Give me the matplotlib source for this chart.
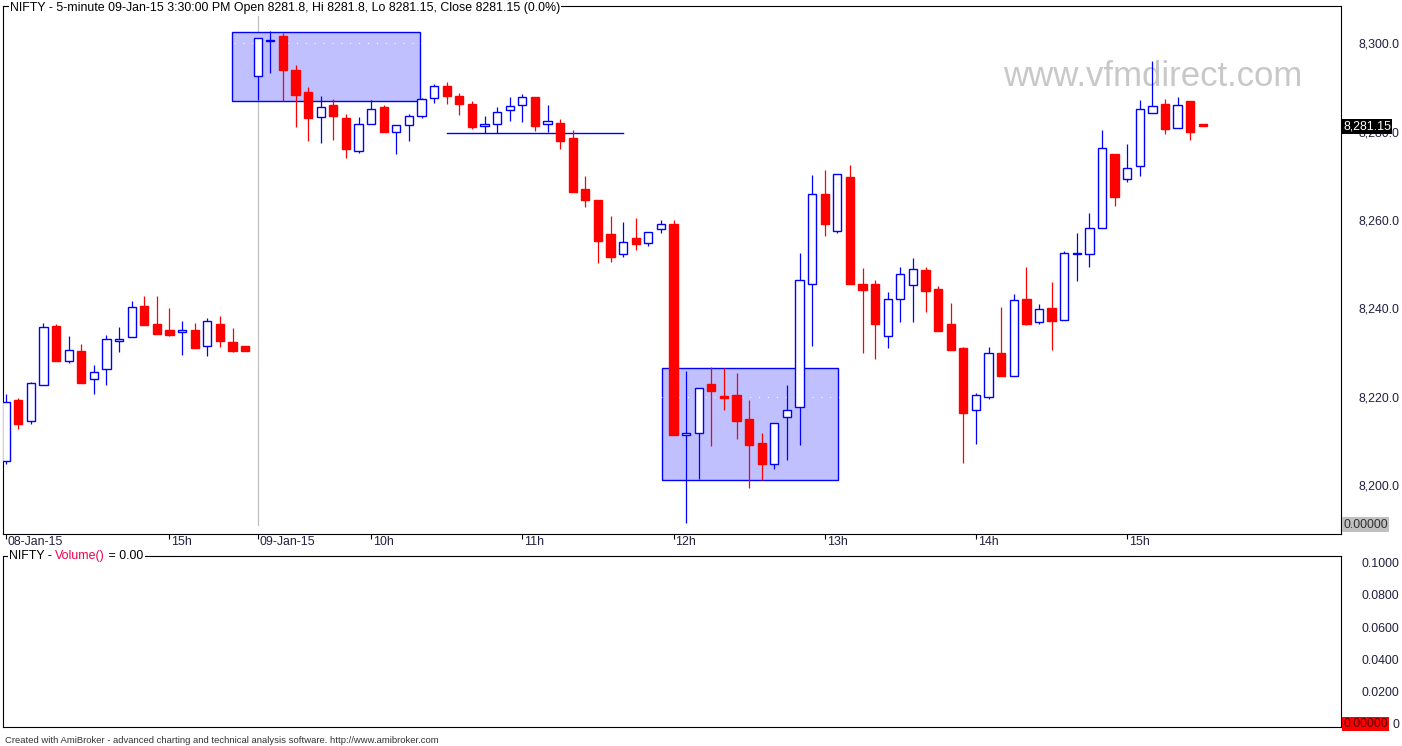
import matplotlib
matplotlib.use('Agg')
import matplotlib.pyplot as plt
from matplotlib.patches import Rectangle
from matplotlib.transforms import blended_transform_factory

plt.rcParams['font.family'] = ['Liberation Sans', 'DejaVu Sans']

# NIFTY 5-minute bars: 08-Jan-15 13:55..15:30 then 09-Jan-15 09:15..15:30
opens = [8205.4, 8219.2, 8214.4, 8222.6, 8236.0, 8228.0, 8230.3, 8223.9, 8226.2, 8232.7,
         8233.4, 8240.5, 8236.4, 8235.1, 8234.6, 8235.1, 8231.4, 8236.4, 8232.4, 8231.4,
         8292.5, 8300.4, 8301.6, 8293.9, 8288.9, 8283.2, 8286.0, 8283.0, 8275.7, 8281.6,
         8285.5, 8279.8, 8281.4, 8283.6, 8287.5, 8290.3, 8288.0, 8286.2, 8281.2, 8281.8,
         8284.8, 8286.1, 8287.8, 8281.6, 8281.9, 8278.5, 8267.0, 8264.5, 8256.8, 8252.2,
         8255.9, 8254.7, 8257.9, 8259.1, 8211.3, 8211.7, 8222.9, 8220.1, 8220.4, 8214.9,
         8209.5, 8204.8, 8215.3, 8217.6, 8245.6, 8265.8, 8257.6, 8269.7, 8245.5, 8245.5,
         8233.7, 8242.0, 8245.2, 8248.7, 8244.4, 8236.4, 8231.0, 8216.9, 8219.9, 8229.9,
         8224.6, 8242.0, 8236.8, 8240.0, 8237.3, 8252.2, 8252.2, 8258.1, 8274.9, 8269.2,
         8272.1, 8284.3, 8286.2, 8280.7, 8286.9, 8281.8]
highs = [8220.6, 8219.7, 8223.3, 8236.7, 8236.4, 8233.7, 8231.9, 8227.2, 8233.9, 8235.8,
         8241.6, 8242.8, 8242.8, 8240.0, 8237.1, 8236.7, 8237.9, 8238.2, 8235.5, 8231.4,
         8301.1, 8302.7, 8302.2, 8295.0, 8290.0, 8288.0, 8287.3, 8283.9, 8283.3, 8287.1,
         8286.0, 8281.4, 8284.0, 8287.5, 8290.7, 8291.2, 8288.7, 8286.9, 8283.5, 8285.5,
         8287.8, 8288.5, 8287.8, 8286.0, 8282.8, 8280.3, 8269.9, 8264.5, 8260.9, 8259.5,
         8260.4, 8257.2, 8260.0, 8259.9, 8225.8, 8221.9, 8226.7, 8226.4, 8225.4, 8219.2,
         8211.8, 8214.0, 8222.6, 8252.5, 8270.1, 8271.3, 8270.3, 8272.4, 8249.1, 8246.5,
         8243.6, 8249.3, 8251.4, 8249.3, 8245.0, 8241.2, 8231.3, 8220.8, 8231.2, 8240.4,
         8243.2, 8249.3, 8241.0, 8245.9, 8252.9, 8257.1, 8261.5, 8280.3, 8274.9, 8277.2,
         8287.1, 8295.9, 8287.3, 8287.8, 8286.9, 8281.8]
lows = [8204.8, 8212.8, 8213.9, 8222.6, 8228.0, 8227.7, 8223.2, 8220.7, 8222.7, 8230.2,
        8233.4, 8236.3, 8234.2, 8233.8, 8229.5, 8231.1, 8229.3, 8231.3, 8230.2, 8230.4,
        8287.1, 8293.3, 8286.9, 8281.1, 8277.9, 8277.4, 8278.1, 8274.1, 8275.2, 8281.6,
        8279.9, 8275.0, 8277.9, 8283.1, 8286.5, 8286.3, 8283.8, 8280.6, 8279.6, 8279.6,
        8282.4, 8282.2, 8280.2, 8279.9, 8276.1, 8266.4, 8263.0, 8250.3, 8250.5, 8251.5,
        8253.2, 8254.1, 8257.1, 8211.4, 8191.4, 8201.4, 8208.9, 8217.0, 8210.4, 8199.3,
        8201.2, 8203.7, 8205.7, 8209.1, 8231.5, 8256.4, 8257.0, 8245.6, 8230.0, 8228.6,
        8231.1, 8237.0, 8237.0, 8239.2, 8234.9, 8230.6, 8205.1, 8209.2, 8219.5, 8224.7,
        8224.6, 8236.3, 8236.5, 8230.6, 8237.3, 8246.2, 8249.4, 8258.1, 8263.2, 8268.6,
        8270.0, 8284.3, 8279.5, 8280.7, 8278.1, 8281.15]
closes = [8218.9, 8213.9, 8223.0, 8235.7, 8228.0, 8230.5, 8223.2, 8225.7, 8233.0, 8233.0,
          8240.4, 8236.3, 8234.2, 8234.0, 8235.1, 8231.1, 8237.1, 8232.7, 8230.4, 8230.4,
          8301.1, 8300.8, 8294.0, 8288.3, 8283.1, 8285.5, 8283.6, 8276.1, 8281.8, 8285.0,
          8279.9, 8281.4, 8283.6, 8287.3, 8290.2, 8288.1, 8286.3, 8281.1, 8281.6, 8284.5,
          8285.7, 8287.9, 8281.3, 8282.3, 8277.9, 8266.4, 8264.6, 8255.3, 8251.7, 8255.1,
          8254.6, 8257.2, 8259.0, 8211.4, 8211.7, 8221.9, 8221.4, 8219.8, 8214.6, 8209.1,
          8204.8, 8214.0, 8217.1, 8246.3, 8265.8, 8259.1, 8270.3, 8245.6, 8244.2, 8236.5,
          8242.0, 8247.7, 8249.0, 8244.0, 8234.9, 8230.6, 8216.4, 8220.3, 8230.0, 8224.7,
          8241.8, 8236.5, 8239.8, 8237.2, 8252.5, 8252.5, 8258.1, 8276.2, 8265.2, 8271.7,
          8285.0, 8285.7, 8280.6, 8286.1, 8279.9, 8281.15]

tick_bars = [0, 13, 20, 29, 41, 53, 65, 77, 89]
tick_labels = ['08-Jan-15', '15h', '09-Jan-15', '10h', '11h', '12h', '13h', '14h', '15h']

price_ticks = [8200, 8220, 8240, 8260, 8280, 8300]
price_labels = ['8,200.0', '8,220.0', '8,240.0', '8,260.0', '8,280.0', '8,300.0']
vol_ticks = [0, 0.02, 0.04, 0.06, 0.08, 0.10]
vol_labels = ['0', '0.0200', '0.0400', '0.0600', '0.0800', '0.1000']

# user drawn zones (first bar, last bar, low, high) and a horizontal line
zones = [(17.95, 32.9, 8286.9, 8302.5), (52.08, 66.03, 8201.1, 8226.4)]
hline = (35.0, 49.0, 8279.6)
session_bar = 20
last_close = 8281.15

BLUE = '#0000FF'
RED = '#FF0000'
FS = 8.9

fig = plt.figure(figsize=(14.02, 7.46), dpi=100)
ax = fig.add_axes([0.00235, 0.28485, 0.95395, 0.70711])
vax = fig.add_axes([0.00235, 0.0248, 0.95395, 0.23056])

for a in (ax, vax):
    for s in a.spines.values():
        s.set_linewidth(0.8)
        s.set_color('black')
    a.set_xlim(-0.19, 105.95)

# zones and line
for x0, x1, lo, hi in zones:
    ax.add_patch(Rectangle((x0, lo), x1 - x0, hi - lo, facecolor='#C0C0FF',
                           edgecolor=BLUE, linewidth=1.0, zorder=1))
ax.plot([hline[0], hline[1]], [hline[2], hline[2]], color=BLUE, lw=1.0, zorder=2)
ax.axvline(session_bar, ymin=0.016, ymax=0.981, color='#C0C0C0', lw=0.9, zorder=0.9)

# candles
x = list(range(len(opens)))
up = [i for i in x if closes[i] > opens[i]]
dn = [i for i in x if closes[i] <= opens[i]]
wick_cols = [BLUE if closes[i] > opens[i] else RED for i in x]
ax.vlines(x, lows, highs, colors=wick_cols, lw=0.9, zorder=3)


def body(idx):
    b = [min(opens[i], closes[i]) for i in idx]
    h = [max(abs(closes[i] - opens[i]), 0.2) for i in idx]
    return b, h


b, h = body(up)
ax.bar(up, h, bottom=b, width=0.66, color='white', edgecolor=BLUE, linewidth=1.0, zorder=4)
b, h = body(dn)
ax.bar(dn, h, bottom=b, width=0.66, color=RED, edgecolor=RED, linewidth=1.0, zorder=4)

ax.set_ylim(8189.05, 8308.4)
ax.set_axisbelow('line')
ax.yaxis.tick_right()
ax.set_yticks(price_ticks)
ax.set_yticklabels(price_labels)
ax.yaxis.grid(True, color='white', linestyle=(0, (1, 7)), lw=0.8)
ax.tick_params(axis='y', length=0, pad=42, labelsize=FS, labelcolor='#202040')
for lbl in ax.get_yticklabels():
    lbl.set_horizontalalignment('right')

ax.set_xticks(tick_bars)
ax.set_xticklabels([])
ax.tick_params(axis='x', direction='out', length=3.6, width=0.8)
tr = blended_transform_factory(ax.transData, ax.transAxes)
for xb, lab in zip(tick_bars, tick_labels):
    ax.text(xb + 0.16, -0.005, lab, transform=tr, ha='left', va='top', fontsize=FS,
            color='#202040', clip_on=False)

# right side value labels
ty = blended_transform_factory(ax.transAxes, ax.transData)
ax.text(1.0018, last_close, '8,281.15', transform=ty, ha='left', va='center', fontsize=FS,
        color='white', clip_on=False, zorder=10,
        bbox=dict(boxstyle='square,pad=0.1', facecolor='black', edgecolor='none'))
ax.text(1.0018, 0.017, '0.00000', transform=ax.transAxes, ha='left', va='center',
        fontsize=FS, color='#303030', clip_on=False, zorder=10,
        bbox=dict(boxstyle='square,pad=0.1', facecolor='#C0C0C0', edgecolor='none'))

# watermark
ax.text(0.8593, 0.867, 'www.vfmdirect.com', transform=ax.transAxes, ha='center',
        va='center', fontsize=25, color='#C8C8C8', zorder=0.5)

# volume pane
vax.set_ylim(-0.0022, 0.1045)
vax.set_xticks([])
vax.yaxis.tick_right()
vax.set_yticks(vol_ticks)
vax.set_yticklabels(vol_labels)
vax.tick_params(axis='y', length=0, pad=42, labelsize=FS, labelcolor='#202040')
for lbl in vax.get_yticklabels():
    lbl.set_horizontalalignment('right')
vax.text(1.0018, 0.0, '0.00000',
         transform=blended_transform_factory(vax.transAxes, vax.transData),
         ha='left', va='center', fontsize=FS, color='#600000', clip_on=False, zorder=10,
         bbox=dict(boxstyle='square,pad=0.1', facecolor=RED, edgecolor='none'))

# pane titles (white boxes break the top border line)
wb = dict(boxstyle='square,pad=0.1', facecolor='white', edgecolor='none')
fig.text(0.00713, 0.9897,
         'NIFTY - 5-minute 09-Jan-15 3:30:00 PM Open 8281.8, Hi 8281.8, Lo 8281.15, '
         'Close 8281.15 (0.0%)', ha='left', va='center', fontsize=FS, color='black', bbox=wb)
t1 = fig.text(0.0064, 0.2547, 'NIFTY - ', ha='left', va='center', fontsize=FS,
              color='black', bbox=wb, zorder=3)
t2 = fig.add_artist(plt.Annotation('Volume()', xy=(1, 0), xycoords=t1, va='bottom',
                                   fontsize=FS, color='#F0004C', bbox=wb, zorder=4))
fig.add_artist(plt.Annotation(' = 0.00', xy=(1, 0), xycoords=t2, va='bottom',
                              fontsize=FS, color='black', bbox=wb, zorder=5))

fig.text(0.0036, 0.008,
         'Created with AmiBroker - advanced charting and technical analysis software. '
         'http://www.amibroker.com', ha='left', va='center', fontsize=6.8, color='#333333')

fig.savefig('out.png', dpi=100)
